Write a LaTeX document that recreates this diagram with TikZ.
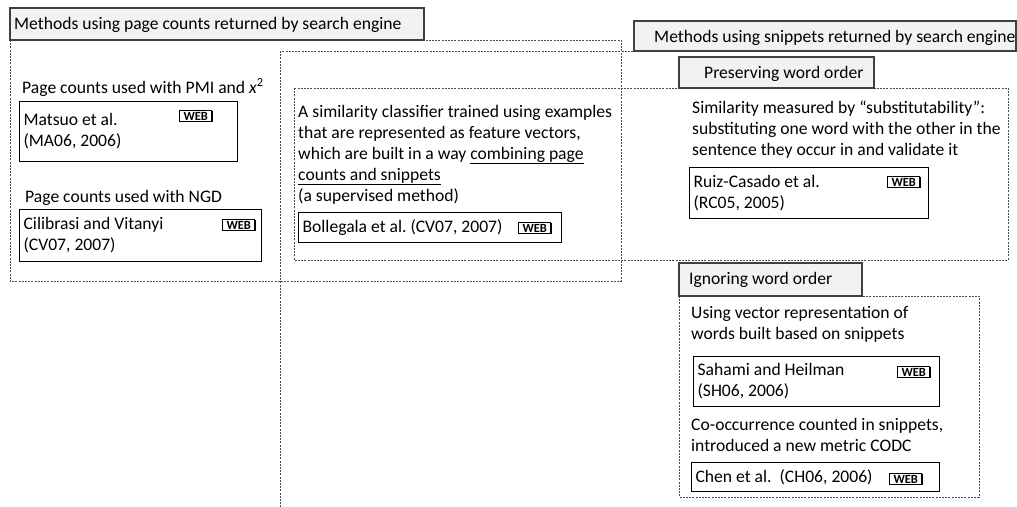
\documentclass[tikz,border=0pt]{standalone}
\usepackage{fontspec}
\setmainfont{Carlito}
\frenchspacing
\usetikzlibrary{positioning,shadows}
\begin{document}
\begin{tikzpicture}[x=1pt,y=-1pt,
  group/.style={draw=black!70,line width=0.9pt,dash pattern=on 2pt off 1.2pt},
  header/.style={draw=black!75,fill=black!5,line width=1.2pt},
  txt/.style={anchor=base west,inner sep=0pt,align=left,font=\fontsize{17.6}{21}\selectfont},
  refbox/.style={draw=black,line width=1.2pt,anchor=north west,inner xsep=4pt,inner ysep=0pt,align=flush left,font=\fontsize{17.6}{21}\selectfont},
  web/.style={draw=black,fill=white,line width=0.9pt,minimum width=32pt,minimum height=11pt,inner sep=0pt,font=\fontsize{12.5}{12}\selectfont\bfseries,
    drop shadow={shadow xshift=0.9pt,shadow yshift=-0.9pt,fill=black,opacity=1}}]
\useasboundingbox (0,0) rectangle (1017,506);
\fill[white] (0,0) rectangle (1017,506);
\clip (0,0) rectangle (1017,506);
\draw[group] (10,40) rectangle (621,281);
\draw[group] (280,51) rectangle (1040,530);
\draw[group] (294,88) rectangle (1008,260);
\draw[group] (679,296) rectangle (979,497);
\draw[header] (10,8) rectangle (424,40);
\draw[header] (634,21) rectangle (1016,51);
\draw[header] (679,57) rectangle (874,88);
\draw[header] (679,263) rectangle (862,296);
\node[txt] (hdpage) at (14,29) {Methods using page counts returned by search engine};
\node[txt] (hdsnip) at (654,42) {Methods using snippets returned by search engine};
\node[txt] (hdorder) at (704,78) {Preserving word order};
\node[txt] (hdnoorder) at (689,284) {Ignoring word order};
\node[txt] (pmi) at (22,93) {Page counts used with PMI and \textit{x}\textsuperscript{2}};
\node[txt] (ngd) at (25,202) {Page counts used with NGD};
\node[txt] (combined) at (298,201) {A similarity classifier trained using examples\\that are represented as feature vectors,\\which are built in a way \underline{combining page}\\\underline{counts and snippets}\\(a supervised method)};
\node[txt] (subst) at (692,155) {Similarity measured by “substitutability”:\\substituting one word with the other in the\\sentence they occur in and validate it};
\node[txt] (vecrep) at (691,339) {Using vector representation of\\words built based on snippets};
\node[txt] (cooc) at (691,451) {Co-occurrence counted in snippets,\\introduced a new metric CODC};
\node[refbox,text width=210pt,minimum height=60pt] (matsuo) at (19,101) {Matsuo et al.\\(MA06, 2006)};
\node[refbox,text width=234pt,minimum height=52pt] (cilibrasi) at (19,209) {Cilibrasi and Vitanyi\\(CV07, 2007)};
\node[refbox,text width=255pt,minimum height=30pt] (bollegala) at (298,212) {Bollegala et al. (CV07, 2007)};
\node[refbox,text width=231pt,minimum height=51pt] (ruiz) at (689,167) {Ruiz-Casado et al.\\(RC05, 2005)};
\node[refbox,text width=238pt,minimum height=50pt] (sahami) at (693,356) {Sahami and Heilman\\(SH06, 2006)};
\node[refbox,text width=240pt,minimum height=29pt] (chen) at (691,462) {Chen et al.\ \ (CH06, 2006)};
\node[web,below left=9pt and 26pt of matsuo.north east] (webmatsuo) {WEB};
\node[web,below left=10pt and 7pt of cilibrasi.north east] (webcilibrasi) {WEB};
\node[web,below left=10pt and 11pt of bollegala.north east] (webbollegala) {WEB};
\node[web,below left=9pt and 9pt of ruiz.north east] (webruiz) {WEB};
\node[web,below left=10pt and 10pt of sahami.north east] (websahami) {WEB};
\node[web,below left=11pt and 18pt of chen.north east] (webchen) {WEB};
\end{tikzpicture}
\end{document}
